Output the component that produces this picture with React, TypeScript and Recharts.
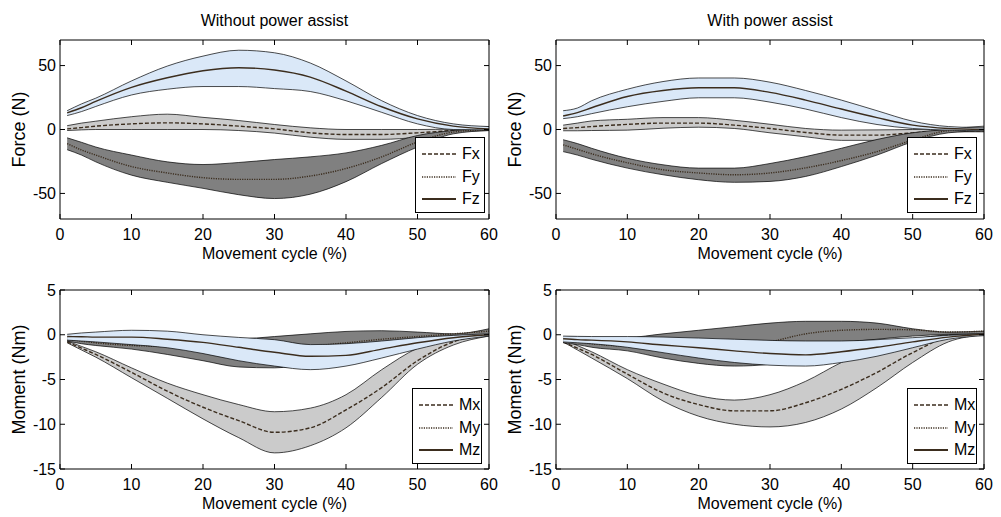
import React from 'react';
import { ComposedChart, Area, XAxis, YAxis, ReferenceArea, Legend } from 'recharts';

// Movement cycle sample points (%)
const cycle = [1, 3, 5, 10, 15, 20, 25, 30, 35, 40, 45, 50, 55, 60];
const xTicks = [0, 10, 20, 30, 40, 50, 60];
const forceTicks = [-50, 0, 50];
const momentTicks = [-15, -10, -5, 0, 5];
const forceNames = ['Fx', 'Fy', 'Fz'];
const momentNames = ['Mx', 'My', 'Mz'];

// Force, without power assist
const fxMeanA = [0.5, 1.5, 2.6, 4.4, 5.2, 4.4, 2.6, 0.5, -2.6, -3.9, -3.9, -2.6, -0.8, 0.5];
const fxHighA = [3, 5, 6.5, 10, 12, 9.5, 7, 3.9, 1.3, 0, 0, 0, 0.5, 2.3];
const fxLowA = [-0.8, -0.3, 0, 0, 0, 0, -0.8, -2.8, -6, -7.7, -7.7, -6, -2, -0.8];
const fyMeanA = [-11, -16, -20, -29, -34, -37.7, -39, -39, -36.4, -30.5, -21.4, -9.8, -2, 0];
const fyHighA = [-6.5, -10, -13.7, -20, -25.3, -27.4, -25.8, -23.5, -21.4, -18.3, -12.4, -4.7, -0.8, 0.5];
const fyLowA = [-15.8, -20, -25.3, -35.7, -41.3, -46, -51, -54, -50.6, -40.8, -26.6, -13.7, -3.4, -0.8];
const fzMeanA = [13, 17, 22, 33, 40.5, 46, 48.3, 46.5, 41, 30, 17.8, 8.3, 2.6, 0.5];
const fzHighA = [14.7, 20, 24.5, 38, 49.6, 57.4, 62, 60, 52, 38, 22.5, 10.9, 4.4, 2.3];
const fzLowA = [10.9, 14, 18, 27, 31.5, 33.6, 33.6, 32, 29.7, 22.5, 13.4, 4.4, 0, -0.3];

// Force, with power assist
const fxMeanB = [0.8, 1.5, 2.3, 4, 5, 5, 3.4, 0.8, -2.3, -4.4, -4.4, -2.6, -1, -1];
const fxHighB = [3.4, 5, 6.7, 8, 9.3, 9.3, 7.2, 4.1, 0.8, -0.5, -0.3, 0, 1, 2.6];
const fxLowB = [-1, -1, -0.8, -0.5, 1, 1.8, 0.8, -2.6, -5.7, -8.5, -8.5, -5.7, -1.8, -1.8];
const fyMeanB = [-12, -15.5, -19, -26, -31.5, -34, -35.4, -34, -30, -24.3, -17.3, -8.3, -1, 0];
const fyHighB = [-8, -11, -14.7, -22.5, -27.6, -30.2, -30.2, -26.6, -21.2, -14.7, -7.8, -2.6, 0, 0.8];
const fyLowB = [-17.3, -20, -23.3, -30.2, -35.4, -39.3, -41.3, -40.6, -36.7, -29, -20, -9.6, -2.6, -1];
const fzMeanB = [10.6, 13.2, 17, 25.8, 30.5, 32.6, 32.6, 29, 23, 16, 9.3, 3.4, 0.8, 0];
const fzHighB = [14.7, 16.8, 22.5, 31.5, 37.5, 40.3, 40.3, 37, 30.5, 23, 14.7, 6.5, 2.3, 1.3];
const fzLowB = [8.5, 10, 12.4, 17.8, 22, 24.8, 24.8, 21.4, 16, 9.3, 3.9, 0.8, -0.5, -1];

// Moment, without power assist
const mxMeanA = [-0.8, -1.5, -2.2, -4.2, -6.3, -8.1, -9.6, -10.9, -10.4, -8.4, -5.9, -2.9, -0.8, 0];
const mxHighA = [-0.7, -1.3, -1.9, -3.7, -5.4, -6.7, -7.8, -8.6, -8.2, -6.7, -3.9, -1.5, -0.3, 0.3];
const mxLowA = [-0.9, -1.7, -2.5, -4.8, -7.1, -9.4, -11.5, -13.2, -12.4, -10.4, -7, -3.3, -1.15, -0.15];
const myMeanA = [-0.5, -0.7, -0.9, -1.2, -1.3, -1.6, -1.8, -1.6, -1.3, -0.9, -0.5, -0.2, 0.1, 0.4];
const myHighA = [-0.3, -0.35, -0.4, -0.5, -0.6, -0.6, -0.5, -0.2, 0.1, 0.37, 0.45, 0.3, 0.1, 0.67];
const myLowA = [-0.7, -1, -1.2, -1.6, -2.2, -2.9, -3.6, -3.7, -3.2, -2.5, -1.5, -0.8, -0.3, 0];
const mzMeanA = [-0.2, -0.22, -0.26, -0.26, -0.5, -0.85, -1.4, -1.95, -2.4, -2.3, -1.6, -0.9, -0.33, 0];
const mzHighA = [0.05, 0.2, 0.3, 0.5, 0.4, 0, -0.3, -0.55, -1.1, -1, -0.7, -0.33, -0.07, 0.1];
const mzLowA = [-0.6, -0.7, -0.8, -1.1, -1.45, -2.1, -2.9, -3.5, -3.9, -3.5, -2.6, -1.6, -0.7, -0.15];

// Moment, with power assist
const mxMeanB = [-0.8, -1.5, -2.2, -4.4, -6.5, -7.8, -8.5, -8.5, -7.6, -6.1, -4.2, -2, -0.3, 0];
const mxHighB = [-0.5, -1.2, -1.9, -3.9, -5.5, -6.8, -7.3, -6.7, -5.2, -3.1, -1.45, -0.5, 0, 0.2];
const mxLowB = [-0.8, -1.7, -2.6, -4.9, -7.4, -9.1, -10, -10.3, -9.8, -8.3, -5.9, -3.1, -0.8, 0];
const myMeanB = [-0.6, -0.8, -1, -1.3, -1.5, -1.6, -1.5, -0.8, 0.1, 0.5, 0.6, 0.55, 0.3, 0.4];
const myHighB = [-0.2, -0.25, -0.3, -0.3, 0.1, 0.5, 0.9, 1.3, 1.5, 1.5, 1.3, 0.67, 0.3, 0.4];
const myLowB = [-0.9, -1.1, -1.4, -1.8, -2.6, -3.2, -3.5, -3.3, -2.5, -1, -0.5, -0.15, 0.05, 0.1];
const mzMeanB = [-0.45, -0.55, -0.6, -0.8, -1.15, -1.45, -1.8, -2.1, -2.25, -1.9, -1.4, -0.8, -0.26, 0.05];
const mzHighB = [-0.15, -0.18, -0.2, -0.2, -0.26, -0.37, -0.5, -0.63, -0.7, -0.7, -0.55, -0.33, -0.07, 0.1];
const mzLowB = [-0.8, -0.9, -1, -1.4, -2, -2.6, -3.1, -3.4, -3.5, -3.1, -2.4, -1.45, -0.5, -0.1];

const FONT = '"Liberation Sans", Arial, Helvetica, sans-serif';
const LINE = '#3b2d1e';
const BLUE = '#dae8f8';
const LGREY = '#cbcbcb';
const DGREY = '#808080';
const EDGE = '#000000';

function makeRows(
  m1: number[], l1: number[], h1: number[],
  m2: number[], l2: number[], h2: number[],
  m3: number[], l3: number[], h3: number[]
) {
  return cycle.map((c, i) => ({
    c,
    m1: m1[i], b1: [l1[i], h1[i]],
    m2: m2[i], b2: [l2[i], h2[i]],
    m3: m3[i], b3: [l3[i], h3[i]],
  }));
}

const forceA = makeRows(fxMeanA, fxLowA, fxHighA, fyMeanA, fyLowA, fyHighA, fzMeanA, fzLowA, fzHighA);
const forceB = makeRows(fxMeanB, fxLowB, fxHighB, fyMeanB, fyLowB, fyHighB, fzMeanB, fzLowB, fzHighB);
const momentA = makeRows(mxMeanA, mxLowA, mxHighA, myMeanA, myLowA, myHighA, mzMeanA, mzLowA, mzHighA);
const momentB = makeRows(mxMeanB, mxLowB, mxHighB, myMeanB, myLowB, myHighB, mzMeanB, mzLowB, mzHighB);

const DASH = '4 2';
const DOT = '1.2 1.2';

const W = 500;
const H = 270;
const MT = 40;
const MB = 10;
const YW = 60;
const XH = 41;

function LegendBox({ names }: { names: string[] }) {
  const styles = [DASH, DOT, undefined];
  return (
    <div
      style={{
        width: 70,
        height: 76,
        border: '1px solid #000',
        background: '#fff',
        paddingTop: 5,
        boxSizing: 'border-box',
        fontFamily: FONT,
        fontSize: 16,
        color: '#000',
      }}
    >
      {names.map((n, i) => (
        <div key={n} style={{ display: 'flex', alignItems: 'center', height: 22.5 }}>
          <svg width={40} height={10} style={{ display: 'block' }}>
            <line x1={6} x2={40} y1={5} y2={5} stroke={LINE} strokeWidth={i === 2 ? 2 : 1.5} strokeDasharray={styles[i]} />
          </svg>
          <span style={{ marginLeft: 6, lineHeight: '16px' }}>{n}</span>
        </div>
      ))}
    </div>
  );
}

type PanelProps = {
  left: number;
  top: number;
  rightMargin: number;
  title?: string;
  data: any[];
  domain: [number, number];
  ticks: number[];
  yLabel: string;
  names: string[];
  legendLeft: number;
  legendTop: number;
};

function Panel(p: PanelProps) {
  const plotTop = MT;
  const plotLeft = YW;
  const plotRight = W - p.rightMargin;

  const XTick = (props: any) => {
    const { x, y, payload } = props;
    return (
      <g>
        <line x1={x} x2={x} y1={y} y2={y - 5} stroke="#000" strokeWidth={1} />
        <line x1={x} x2={x} y1={plotTop} y2={plotTop + 5} stroke="#000" strokeWidth={1} />
        <text x={x} y={y + 21} textAnchor="middle" fontSize={16} fontFamily={FONT} fill="#000">
          {payload.value}
        </text>
      </g>
    );
  };

  const YTick = (props: any) => {
    const { x, y, payload } = props;
    return (
      <g>
        <line x1={x} x2={x + 5} y1={y} y2={y} stroke="#000" strokeWidth={1} />
        <line x1={plotRight} x2={plotRight - 5} y1={y} y2={y} stroke="#000" strokeWidth={1} />
        <text x={x - 4} y={y + 5.5} textAnchor="end" fontSize={16} fontFamily={FONT} fill="#000">
          {payload.value}
        </text>
      </g>
    );
  };

  return (
    <div style={{ position: 'absolute', left: p.left, top: p.top, width: W, height: H }}>
      {p.title && (
        <div
          style={{
            position: 'absolute',
            left: plotLeft,
            width: plotRight - plotLeft,
            top: 12.5,
            textAlign: 'center',
            fontFamily: FONT,
            fontSize: 16,
            lineHeight: '16px',
            color: '#000',
          }}
        >
          {p.title}
        </div>
      )}
      <ComposedChart
        width={W}
        height={H}
        data={p.data}
        margin={{ top: MT, right: p.rightMargin, bottom: MB, left: 0 }}
      >
        <XAxis
          dataKey="c"
          type="number"
          domain={[0, 60]}
          ticks={xTicks}
          interval={0}
          height={XH}
          tickSize={0}
          tickMargin={0}
          axisLine={false}
          tickLine={false}
          tick={XTick}
          label={{
            value: 'Movement cycle (%)',
            position: 'insideBottom',
            offset: 1,
            fontSize: 16,
            fontFamily: FONT,
            fill: '#000',
          }}
        />
        <YAxis
          type="number"
          domain={p.domain}
          ticks={p.ticks}
          interval={0}
          width={YW}
          tickSize={0}
          tickMargin={0}
          axisLine={false}
          tickLine={false}
          tick={YTick}
          allowDataOverflow
          label={{
            value: p.yLabel,
            angle: -90,
            position: 'insideLeft',
            offset: 19,
            fontSize: 18,
            fontFamily: FONT,
            fill: '#000',
            style: { textAnchor: 'middle' },
          }}
        />
        <Area type="monotone" dataKey="b1" fill={LGREY} fillOpacity={1} stroke={EDGE} strokeWidth={0.7} dot={false} activeDot={false} isAnimationActive={false} />
        <Area type="monotone" dataKey="m1" fill="none" stroke={LINE} strokeWidth={1.4} strokeDasharray={DASH} dot={false} activeDot={false} isAnimationActive={false} />
        <Area type="monotone" dataKey="b2" fill={DGREY} fillOpacity={1} stroke={EDGE} strokeWidth={0.7} dot={false} activeDot={false} isAnimationActive={false} />
        <Area type="monotone" dataKey="m2" fill="none" stroke={LINE} strokeWidth={1.4} strokeDasharray={DOT} dot={false} activeDot={false} isAnimationActive={false} />
        <Area type="monotone" dataKey="b3" fill={BLUE} fillOpacity={1} stroke={EDGE} strokeWidth={0.7} dot={false} activeDot={false} isAnimationActive={false} />
        <Area type="monotone" dataKey="m3" fill="none" stroke={LINE} strokeWidth={1.4} dot={false} activeDot={false} isAnimationActive={false} />
        <ReferenceArea
          x1={0}
          x2={60}
          y1={p.domain[0]}
          y2={p.domain[1]}
          fill="none"
          stroke="#000"
          strokeWidth={1}
          ifOverflow="visible"
        />
        <Legend
          layout="vertical"
          align="center"
          verticalAlign="middle"
          width={70}
          height={76}
          wrapperStyle={{ left: p.legendLeft, top: p.legendTop }}
          content={() => <LegendBox names={p.names} />}
        />
      </ComposedChart>
    </div>
  );
}

export default function App() {
  return (
    <div
      style={{
        position: 'fixed',
        left: 0,
        top: 0,
        width: 1001,
        height: 517,
        background: '#fff',
        overflow: 'hidden',
      }}
    >
      <Panel left={0} top={0} rightMargin={11} title="Without power assist" data={forceA} domain={[-70, 70]} ticks={forceTicks} yLabel="Force (N)" names={forceNames} legendLeft={415} legendTop={137} />
      <Panel left={496} top={0} rightMargin={12} title="With power assist" data={forceB} domain={[-70, 70]} ticks={forceTicks} yLabel="Force (N)" names={forceNames} legendLeft={411} legendTop={137} />
      <Panel left={0} top={250} rightMargin={11} data={momentA} domain={[-15, 5]} ticks={momentTicks} yLabel="Moment (Nm)" names={momentNames} legendLeft={412} legendTop={138} />
      <Panel left={496} top={250} rightMargin={12} data={momentB} domain={[-15, 5]} ticks={momentTicks} yLabel="Moment (Nm)" names={momentNames} legendLeft={411} legendTop={138} />
    </div>
  );
}
